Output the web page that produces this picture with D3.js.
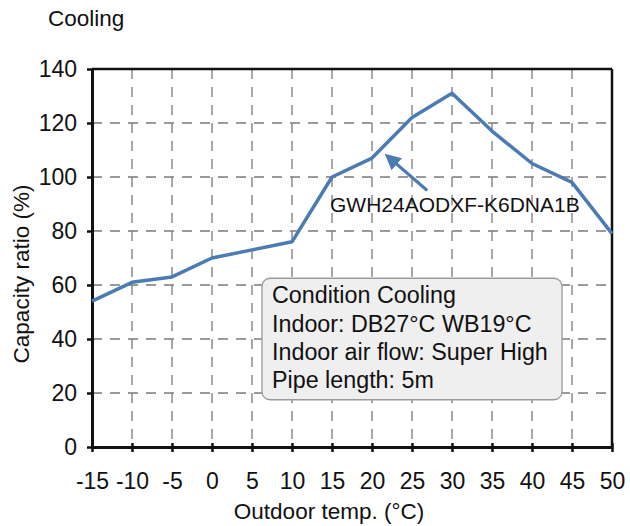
<!DOCTYPE html>
<html lang="en">
<head>
  <meta charset="utf-8">
  <title>Cooling</title>
  <style>
    body { margin:0; background:#fff; }
    svg { display:block; font-family:"Liberation Sans", Arial, sans-serif; }
    .grid line { stroke:#7a7a7a; stroke-width:1.3; stroke-dasharray:10,8; }
    .axis path, .axis line { stroke:#111; }
    .axis text { font-size:23px; fill:#111; }
  </style>
</head>
<body>
  <div id="chart"></div>
  <script src="https://cdn.jsdelivr.net/npm/d3@7"></script>
  <script>
    var temps = [-15,-10,-5,0,5,10,15,20,25,30,35,40,45,50];
    var ratios = [54,61,63,70,73,76,100,107,122,131,117,105,98,79];
    var yTicks = [0,20,40,60,80,100,120,140];
    var modelName = "GWH24AODXF-K6DNA1B";
    var conditions = ["Condition Cooling","Indoor: DB27°C WB19°C","Indoor air flow: Super High","Pipe length: 5m"];

    var W = 630, H = 526;
    var m = {left:92, right:18, top:69, bottom:79};
    var w = W - m.left - m.right, h = H - m.top - m.bottom;

    var svg = d3.select("#chart").append("svg")
        .attr("width", W).attr("height", H);

    var x = d3.scaleLinear().domain([-15,50]).range([m.left, m.left + w]);
    var y = d3.scaleLinear().domain([0,140]).range([m.top + h, m.top]);

    // grid
    var grid = svg.append("g").attr("class","grid");
    grid.selectAll("line.v").data(temps.slice(1,-1)).enter().append("line")
        .attr("x1", function(d){ return x(d); }).attr("x2", function(d){ return x(d); })
        .attr("y1", y(140)).attr("y2", y(0));
    grid.selectAll("line.h").data(yTicks.slice(1,-1)).enter().append("line")
        .attr("y1", function(d){ return y(d); }).attr("y2", function(d){ return y(d); })
        .attr("x1", x(-15)).attr("x2", x(50));

    // frame top / right
    svg.append("line").attr("x1", x(-15)).attr("x2", x(50)).attr("y1", y(140)).attr("y2", y(140))
        .attr("stroke","#111").attr("stroke-width",2.5);
    svg.append("line").attr("x1", x(50)).attr("x2", x(50)).attr("y1", y(140)).attr("y2", y(0))
        .attr("stroke","#111").attr("stroke-width",2.5);

    // axes
    var xAxis = svg.append("g").attr("class","axis")
        .attr("transform","translate(0," + y(0) + ")")
        .call(d3.axisBottom(x).tickValues(temps).tickFormat(function(d){ return String(d); })
              .tickSize(5).tickPadding(21).tickSizeOuter(0));
    xAxis.select(".domain").attr("stroke-width",3);
    xAxis.selectAll(".tick line").attr("stroke-width",2.5).attr("y1",-4);

    var yAxis = svg.append("g").attr("class","axis")
        .attr("transform","translate(" + x(-15) + ",0)")
        .call(d3.axisLeft(y).tickValues(yTicks).tickSize(5).tickPadding(10).tickSizeOuter(0));
    yAxis.select(".domain").attr("stroke-width",3);
    yAxis.selectAll(".tick line").attr("stroke-width",2.5);

    // data line
    var line = d3.line()
        .x(function(d, i){ return x(temps[i]); })
        .y(function(d){ return y(d); });
    svg.append("path").datum(ratios)
        .attr("d", line)
        .attr("fill","none")
        .attr("stroke","#4a7bb3")
        .attr("stroke-width",3.5)
        .attr("stroke-linejoin","round");

    // arrow annotation
    svg.append("defs").append("marker")
        .attr("id","arr").attr("viewBox","0 0 10 10")
        .attr("refX",2).attr("refY",5)
        .attr("markerWidth",5).attr("markerHeight",5)
        .attr("orient","auto")
      .append("path").attr("d","M0,0L10,5L0,10Z").attr("fill","#4a7bb3");
    svg.append("line")
        .attr("x1", x(26.9)).attr("y1", y(95))
        .attr("x2", x(22.8)).attr("y2", y(105.5))
        .attr("stroke","#4a7bb3").attr("stroke-width",3.2)
        .attr("marker-end","url(#arr)");

    svg.append("text")
        .attr("x", x(14.75)).attr("y", 212)
        .attr("font-size","21px").attr("fill","#111")
        .text(modelName);

    // condition box
    var bx = x(6.25), by = y(62.5);
    var box = svg.append("g");
    box.append("rect")
        .attr("x", bx).attr("y", by)
        .attr("width", x(43.75) - bx).attr("height", y(17.5) - by)
        .attr("rx",8)
        .attr("fill","#efefef").attr("stroke","#9a9a9a").attr("stroke-width",1.3);
    box.selectAll("text").data(conditions).enter().append("text")
        .attr("x", bx + 10)
        .attr("y", function(d, i){ return by + 25 + i * 28.3; })
        .attr("font-size","23.3px").attr("fill","#111")
        .text(function(d){ return d; });

    // titles
    svg.append("text").attr("x",48).attr("y",26)
        .attr("font-size","22.5px").attr("fill","#111").text("Cooling");
    svg.append("text").attr("x", 329).attr("y", 519)
        .attr("text-anchor","middle").attr("font-size","22.5px").attr("fill","#111")
        .text("Outdoor temp. (°C)");
    svg.append("text")
        .attr("transform","translate(29,274) rotate(-90)")
        .attr("text-anchor","middle").attr("font-size","22.5px").attr("fill","#111")
        .text("Capacity ratio (%)");
  </script>
</body>
</html>
